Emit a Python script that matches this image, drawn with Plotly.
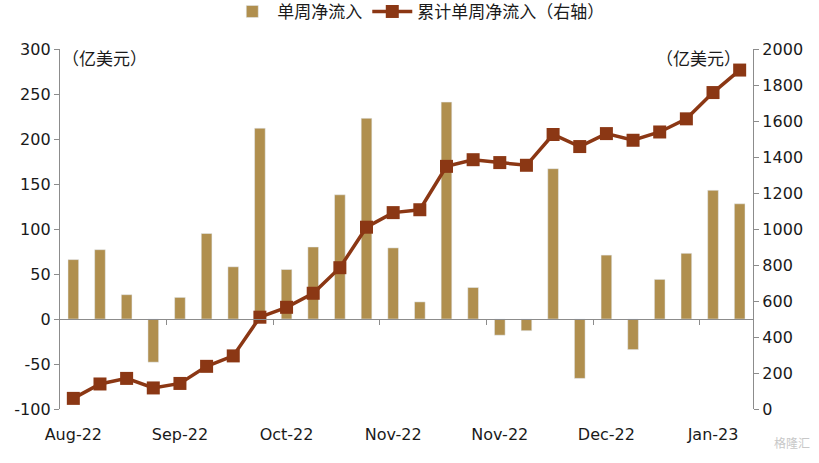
import plotly.graph_objects as go

weeks = list(range(26))
weekly_flow = [66, 77, 27, -48, 24, 95, 58, 212, 55, 80, 138, 223, 79, 19, 241, 35,
               -18, -13, 167, -66, 71, -34, 44, 73, 143, 128]
cumulative_flow = [59, 139, 170, 117, 142, 237, 295, 510, 565, 643, 785, 1010, 1091, 1107,
                   1348, 1385, 1369, 1354, 1525, 1458, 1530, 1493, 1539, 1612, 1758, 1883]
tick_positions = [0, 4, 8, 12, 16, 20, 24]
tick_labels = ["Aug-22", "Sep-22", "Oct-22", "Nov-22", "Nov-22", "Dec-22", "Jan-23"]
boundary_ticks = [3.5, 7.5, 11.5, 15.5, 19.5, 23.5]
left_ticks = [-100, -50, 0, 50, 100, 150, 200, 250, 300]
left_tick_labels = ["-100", "-50", "0", "50", "100", "150", "200", "250", "300"]

BAR = "#B08F4E"
LINE = "#8B3714"
AXIS = "#8C8C8C"
FONT = "DejaVu Sans, Noto Sans CJK SC"

fig = go.Figure()
fig.add_trace(go.Bar(x=weeks, y=weekly_flow, name="单周净流入", marker_color=BAR,
                     width=0.4, yaxis="y"))
fig.add_trace(go.Scatter(x=weeks, y=cumulative_flow, name="累计单周净流入（右轴）",
                         mode="lines+markers", yaxis="y2",
                         line=dict(color=LINE, width=3.5),
                         marker=dict(symbol="square", size=13, color=LINE)))
# invisible trace to host the zero-line axis
fig.add_trace(go.Scatter(x=[None], y=[None], xaxis="x2", yaxis="y", showlegend=False,
                         hoverinfo="skip"))

fig.update_layout(
    width=819, height=463,
    margin=dict(l=60, r=66, t=49, b=54, autoexpand=False),
    paper_bgcolor="white", plot_bgcolor="white",
    font=dict(family=FONT, size=16, color="#1a1a1a"),
    xaxis=dict(range=[-0.5, 25.5], tickmode="array", tickvals=tick_positions,
               ticktext=tick_labels, showline=False, showgrid=False, zeroline=False,
               ticks="", ticklabelstandoff=14, tickfont=dict(size=16)),
    xaxis2=dict(range=[-0.5, 25.5], overlaying="x", anchor="free", position=0.25,
                showline=True, linecolor=AXIS, linewidth=1.3, showgrid=False, zeroline=False,
                ticks="outside", ticklen=5, tickcolor=AXIS, tickvals=boundary_ticks,
                showticklabels=False),
    yaxis=dict(range=[-100, 300], tickmode="array", tickvals=left_ticks,
               ticktext=left_tick_labels, showgrid=False, zeroline=False,
               showline=True, linecolor=AXIS, linewidth=1.3, ticks="outside",
               ticklen=5, tickcolor=AXIS, tickfont=dict(size=16)),
    yaxis2=dict(range=[0, 2000], dtick=200, overlaying="y", side="right",
                showgrid=False, zeroline=False, showline=True, linecolor=AXIS,
                linewidth=1.3, ticks="outside", ticklen=5, tickcolor=AXIS,
                tickfont=dict(size=16)),
    legend=dict(orientation="h", x=0.517, xanchor="center", yref="paper", y=1.103,
                yanchor="middle", font=dict(size=17), traceorder="normal",
                bgcolor="rgba(0,0,0,0)", itemwidth=40),
    annotations=[
        dict(text="（亿美元）", xref="paper", yref="paper", x=0.0, y=1.005,
             xanchor="left", yanchor="top", showarrow=False, font=dict(size=17)),
        dict(text="（亿美元）", xref="paper", yref="paper", x=0.985, y=1.005,
             xanchor="right", yanchor="top", showarrow=False, font=dict(size=17)),
        dict(text="格隆汇", xref="paper", yref="paper", x=1.085, y=-0.07,
             xanchor="right", yanchor="top", showarrow=False,
             font=dict(size=12, color="#C8C8C8")),
    ],
)

fig.write_html("out.html", config={"displayModeBar": False},
               post_script="document.body.style.margin='0';document.body.style.overflow='hidden';")
